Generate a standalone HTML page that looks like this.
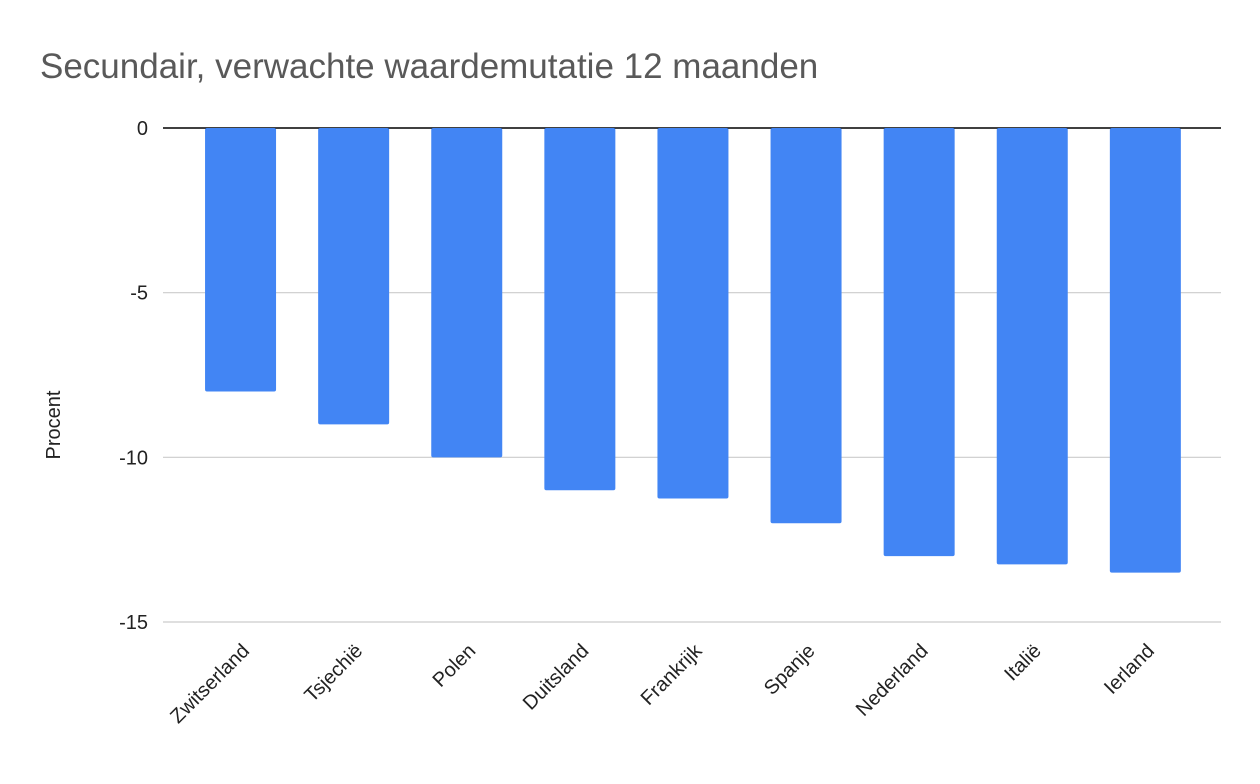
<!DOCTYPE html>
<html><head><meta charset="utf-8"><style>
body{margin:0;background:#fff;}
svg text{font-family:"Liberation Sans",Arial,sans-serif;}
</style></head><body>
<svg id="chart" width="1260" height="779" xmlns="http://www.w3.org/2000/svg">
<rect width="1260" height="779" fill="#fff"/>
<text x="40" y="78" font-size="35" fill="#595959">Secundair, verwachte waardemutatie 12 maanden</text>
<text transform="translate(60,425) rotate(-90)" text-anchor="middle" font-size="20" fill="#222">Procent</text>
<g id="grid"></g><g id="bars"></g><g id="xlabels"></g>
</svg>
<script>
const categories=["Zwitserland","Tsjechië","Polen","Duitsland","Frankrijk","Spanje","Nederland","Italië","Ierland"];
const values=[-8,-9,-10,-11,-11.25,-12,-13,-13.25,-13.5];
const yTicks=[0,-5,-10,-15];
const NS="http://www.w3.org/2000/svg";
const y=v=>128+(-v)*(622-128)/15;
const bandL=184,bandW=113.1,barW=71;
const x=i=>bandL+i*bandW+bandW/2;
function mk(t,a,p){const e=document.createElementNS(NS,t);for(const k in a)e.setAttribute(k,a[k]);p.appendChild(e);return e;}
const grid=document.getElementById('grid');
yTicks.forEach(t=>{
 const l=mk('line',{x1:163,x2:1221,y1:y(t),y2:y(t),stroke:t===0?'#000':'#ccc','stroke-width':t===0?1.5:1.2},grid);
 
 
 const tx=mk('text',{x:148,y:y(t)+7,'text-anchor':'end','font-size':20,fill:'#222'},grid);
 tx.textContent=t;
 
 
});
const bars=document.getElementById('bars'),xl=document.getElementById('xlabels');
categories.forEach((c,i)=>{
 const r=mk('rect',{x:x(i)-barW/2,y:y(0),width:barW,height:y(values[i])-y(0),fill:'#4285f4',rx:2},bars);
 
 
 const t=mk('text',{transform:`translate(${x(i)+10},${652}) rotate(-45)`,'text-anchor':'end','font-size':20,fill:'#222'},xl);
 t.textContent=c;
 
 
});
</script>
</body></html>
